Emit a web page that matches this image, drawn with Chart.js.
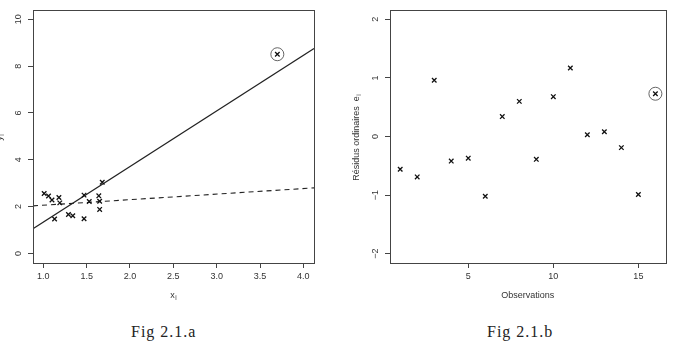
<!DOCTYPE html>
<html><head><meta charset="utf-8">
<script src="https://cdn.jsdelivr.net/npm/chart.js@4.4.0/dist/chart.umd.min.js"></script>
<style>
html,body{margin:0;padding:0;background:#fff;width:673px;height:349px;overflow:hidden;position:relative;}
canvas{position:absolute;top:0;}
#c1{left:0;}
#c2{left:340px;}
.cap{position:absolute;top:323px;font-family:"Liberation Serif","DejaVu Serif",serif;font-size:16px;letter-spacing:1px;color:#222;white-space:nowrap;}
</style></head><body>
<canvas id="c1" width="340" height="310"></canvas>
<canvas id="c2" width="333" height="310"></canvas>
<div class="cap" id="capA" style="left:131px">Fig 2.1.a</div>
<div class="cap" id="capB" style="left:487px">Fig 2.1.b</div>
<script>
// ---- Fig 2.1.a data ----
const xVals = [1.01,1.06,1.10,1.13,1.18,1.19,1.29,1.34,1.47,1.47,1.53,1.64,1.65,1.65,1.68,3.70];
const yVals = [2.56,2.45,2.28,1.47,2.39,2.16,1.66,1.61,2.49,1.48,2.22,2.46,2.23,1.88,3.04,8.51];
const outlierIdx = 15;
const fitX = [0.881, 4.123];
const fitAllY = [1.05, 8.75];      // solid line: fit with all points
const fitNoOutY = [2.03, 2.80];    // dashed line: fit without the outlier
const xLimA = [0.881, 4.123];
const yLimA = [-0.41, 10.4];

// ---- Fig 2.1.b data ----
const obs = [1,2,3,4,5,6,7,8,9,10,11,12,13,14,15,16];
const resid = [-0.56,-0.69,0.96,-0.42,-0.37,-1.02,0.34,0.60,-0.39,0.68,1.17,0.03,0.08,-0.19,-0.99,0.73];
const outlierObsIdx = 15;
const xLimB = [0.4, 16.6];
const yLimB = [-2.16, 2.16];

const FONT = '"Liberation Sans", Arial, sans-serif';
const TXT = '#333';
const AX = '#444';
const H = 310, PLOT_TOP = 10, PLOT_BOTTOM = 263;

function drawSub(ctx, main, sub, cx, cy, rot){
  ctx.save();
  ctx.translate(cx, cy);
  ctx.rotate(rot);
  ctx.fillStyle = TXT;
  ctx.textBaseline = 'middle';
  ctx.textAlign = 'left';
  ctx.font = '9px ' + FONT;
  const w1 = ctx.measureText(main).width;
  ctx.font = '6.5px ' + FONT;
  const w2 = ctx.measureText(sub).width;
  const start = -(w1 + w2 + 0.5) / 2;
  ctx.font = '9px ' + FONT;
  ctx.fillText(main, start, 0);
  ctx.font = '6.5px ' + FONT;
  ctx.fillText(sub, start + w1 + 0.5, 2.5);
  ctx.restore();
}

function makePlugin(o){
  return {
    id: 'rframe',
    afterDraw(chart){
      const ctx = chart.ctx, a = chart.chartArea;
      ctx.save();
      ctx.strokeStyle = AX; ctx.lineWidth = 1;
      ctx.strokeRect(Math.round(a.left)+0.5, Math.round(a.top)+0.5, Math.round(a.right-a.left), Math.round(a.bottom-a.top));
      const ys = chart.scales.y;
      ctx.font = '9px ' + FONT;
      ctx.fillStyle = TXT;
      ctx.textAlign = 'center';
      ctx.textBaseline = 'middle';
      ys.ticks.forEach(t => {
        const py = ys.getPixelForValue(t.value);
        ctx.save();
        ctx.translate(a.left - 14.5, py);
        ctx.rotate(-Math.PI/2);
        ctx.fillText(o.yfmt(t.value), 0, 0);
        ctx.restore();
      });
      ctx.restore();
      if (o.xSub) drawSub(ctx, o.xTitle, o.xSub, (a.left+a.right)/2, 296, 0);
      else {
        ctx.save(); ctx.font = '9px ' + FONT; ctx.fillStyle = TXT; ctx.textAlign='center'; ctx.textBaseline='middle';
        ctx.fillText(o.xTitle, (a.left+a.right)/2, 296); ctx.restore();
      }
      drawSub(ctx, o.yTitle, o.ySub, o.yTitleX, (a.top+a.bottom)/2 + 1, -Math.PI/2);
    }
  };
}

function scales(xLim, yLim, xStep, yStep, yWidth, xfmt){
  return {
    x: {
      type: 'linear', min: xLim[0], max: xLim[1],
      border: {display: false},
      grid: {drawOnChartArea: false, drawTicks: true, tickLength: 5, color: AX, lineWidth: 1},
      ticks: {stepSize: xStep, includeBounds: false, autoSkip: false, maxRotation: 0, padding: 3,
              color: TXT, font: {family: FONT, size: 9}, callback: xfmt},
      afterFit(s){ s.height = H - PLOT_BOTTOM; s.paddingLeft = 0; s.paddingRight = 0; }
    },
    y: {
      type: 'linear', min: yLim[0], max: yLim[1],
      border: {display: false},
      grid: {drawOnChartArea: false, drawTicks: true, tickLength: 5, color: AX, lineWidth: 1},
      ticks: {stepSize: yStep, includeBounds: false, display: false},
      afterFit(s){ s.width = yWidth; s.paddingTop = 0; s.paddingBottom = 0; }
    }
  };
}

const common = {
  responsive: false, animation: false,
  plugins: {legend: {display: false}, tooltip: {enabled: false}},
  events: []
};

const ptsA = xVals.map((x, i) => ({x, y: yVals[i]}));
new Chart(document.getElementById('c1'), {
  type: 'scatter',
  data: {datasets: [
    {data: ptsA, pointStyle: 'crossRot', pointRadius: 3.2, borderColor: '#111', pointBorderWidth: 1.3, showLine: false},
    {data: [{x: xVals[outlierIdx], y: yVals[outlierIdx]}], pointStyle: 'circle', pointRadius: 6.5, borderColor: '#555', pointBorderWidth: 0.9, backgroundColor: 'rgba(0,0,0,0)', showLine: false},
    {data: fitX.map((x,i)=>({x, y: fitAllY[i]})), showLine: true, pointRadius: 0, borderColor: '#222', borderWidth: 1.2},
    {data: fitX.map((x,i)=>({x, y: fitNoOutY[i]})), showLine: true, pointRadius: 0, borderColor: '#222', borderWidth: 1.1, borderDash: [5,4]}
  ]},
  options: Object.assign({}, common, {
    layout: {padding: {left: 0, top: PLOT_TOP, right: 340 - 314, bottom: 0}},
    scales: scales(xLimA, yLimA, 0.5, 2, 33, v => v.toFixed(1))
  }),
  plugins: [makePlugin({yfmt: v => String(v), xTitle: 'x', xSub: 'i', yTitle: 'y', ySub: 'i', yTitleX: 0})]
});

const ptsB = obs.map((o, i) => ({x: o, y: resid[i]}));
new Chart(document.getElementById('c2'), {
  type: 'scatter',
  data: {datasets: [
    {data: ptsB, pointStyle: 'crossRot', pointRadius: 3.2, borderColor: '#111', pointBorderWidth: 1.3, showLine: false},
    {data: [{x: obs[outlierObsIdx], y: resid[outlierObsIdx]}], pointStyle: 'circle', pointRadius: 6.5, borderColor: '#555', pointBorderWidth: 0.9, backgroundColor: 'rgba(0,0,0,0)', showLine: false}
  ]},
  options: Object.assign({}, common, {
    layout: {padding: {left: 0, top: PLOT_TOP, right: 333 - 331, bottom: 0}},
    scales: scales(xLimB, yLimB, 5, 1, 50, v => String(v))
  }),
  plugins: [makePlugin({yfmt: v => (v < 0 ? '\u2212' + Math.abs(v) : String(v)), xTitle: 'Observations', xSub: '', yTitle: 'Résidus ordinaires  e', ySub: 'i', yTitleX: 17})]
});
</script>
</body></html>
